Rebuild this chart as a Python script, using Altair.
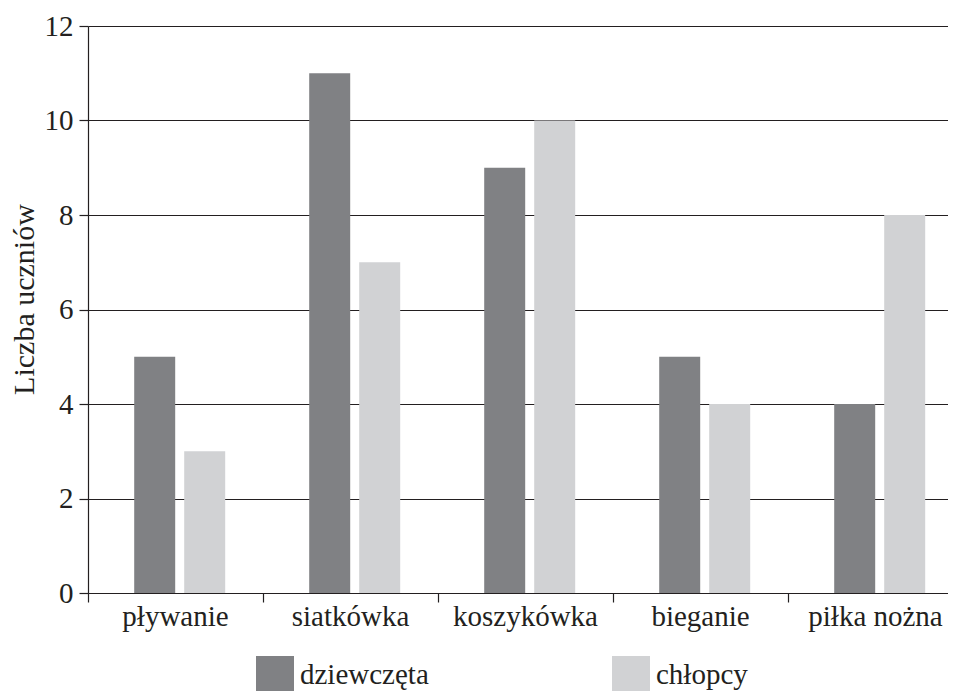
import altair as alt
import pandas as pd

categories = ["pływanie", "siatkówka", "koszykówka", "bieganie", "piłka nożna"]
series = ["dziewczęta", "chłopcy"]
girls = [5, 11, 9, 5, 4]
boys = [3, 7, 10, 4, 8]
y_ticks = [0, 2, 4, 6, 8, 10, 12]
colors = ["#808184", "#d1d2d4"]

rows = []
for c, g, b in zip(categories, girls, boys):
    rows.append({"sport": c, "grupa": series[0], "liczba": g})
    rows.append({"sport": c, "grupa": series[1], "liczba": b})
df = pd.DataFrame(rows)

FONT = "Liberation Serif"
TXT = "#231f20"

chart = alt.Chart(df).mark_bar().encode(
    x=alt.X(
        "sport:N", sort=categories, title=None,
        scale=alt.Scale(range=[0, 875], paddingInner=0, paddingOuter=0),
        axis=alt.Axis(
            bandPosition=0, labelAngle=0, tickSize=9, labelPadding=0, grid=False,
            labelFont=FONT, labelFontSize=29, labelColor=TXT,
            domainColor=TXT, tickColor=TXT, domainWidth=1.2, tickWidth=1.2,
        ),
    ),
    xOffset=alt.XOffset(
        "grupa:N", sort=series,
        scale=alt.Scale(paddingInner=0.18, paddingOuter=0.84, align=0.55),
    ),
    y=alt.Y(
        "liczba:Q",
        scale=alt.Scale(domain=[0, 12]),
        axis=alt.Axis(
            values=y_ticks, title="Liczba uczniów", grid=True,
            gridColor=TXT, gridWidth=1.2, domainColor=TXT, domainWidth=1.2,
            tickColor=TXT, tickWidth=1.2, tickSize=9, labelPadding=6,
            labelFont=FONT, labelFontSize=29, labelColor=TXT,
            titleFont=FONT, titleFontSize=30, titleColor=TXT, titleFontWeight="normal",
            titleX=-55, titleY=273, titleAngle=270, titleAlign="center",
            titleBaseline="alphabetic",
        ),
    ),
    color=alt.Color(
        "grupa:N", sort=series, title=None,
        scale=alt.Scale(domain=series, range=colors),
        legend=alt.Legend(
            orient="none", legendX=168, legendY=630, direction="horizontal",
            symbolType="square", symbolSize=1444, symbolStrokeWidth=0,
            symbolOpacity=1, labelFont=FONT, labelFontSize=29, labelColor=TXT,
            labelOffset=6, columnPadding=183, padding=0,
        ),
    ),
).properties(
    width=860, height=567,
    autosize=alt.AutoSizeParams(type="none"),
    padding={"left": 80, "top": 18, "right": 0, "bottom": 98},
).configure_view(strokeWidth=0)

chart.save("out.html", embed_options={"renderer": "svg", "actions": False})
